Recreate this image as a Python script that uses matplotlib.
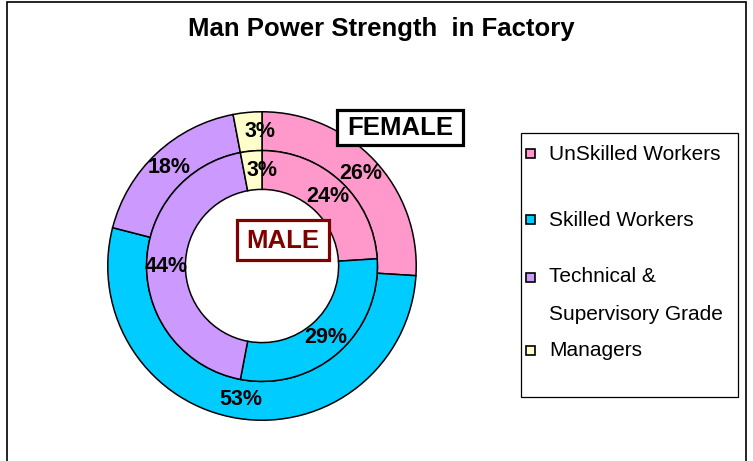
import matplotlib.pyplot as plt
from matplotlib.patches import Rectangle

plt.rcParams['font.family'] = ['Liberation Sans', 'DejaVu Sans']

# data
categories = ['UnSkilled Workers', 'Skilled Workers',
              'Technical &\nSupervisory Grade', 'Managers']
female_pct = [26, 53, 18, 3]   # outer ring
male_pct = [24, 29, 44, 3]     # inner ring
colors = ['#FF99CC', '#00CCFF', '#CC99FF', '#FFFFCC']

W, H = 753, 461
fig = plt.figure(figsize=(W / 100, H / 100), dpi=100)


def fx(px):
    return px / W


def fy(py):
    return 1 - py / H


# doughnut axes: centre (262,266) px, outer radius 155 px
cx, cy, R = 262, 266, 155
ax = fig.add_axes([fx(cx - R), fy(cy + R), 2 * R / W, 2 * R / H])

ring_w = 39 / R
mid_r = 116 / R
wprops = dict(edgecolor='black', linewidth=1.1, width=ring_w)
tprops = dict(fontsize=15.5, fontweight='bold', color='black')

_, _, outer_txt = ax.pie(female_pct, colors=colors, radius=1.0, startangle=90,
                         counterclock=False, wedgeprops=wprops,
                         autopct=lambda p: '%.0f%%' % p, pctdistance=0.875,
                         textprops=tprops)
_, _, inner_txt = ax.pie(male_pct, colors=colors, radius=mid_r, startangle=90,
                         counterclock=False, wedgeprops=wprops,
                         autopct=lambda p: '%.0f%%' % p, pctdistance=0.83,
                         textprops=tprops)
# Excel nudges the tiny "Managers" labels a little to the right
outer_txt[3].set_x(outer_txt[3].get_position()[0] + 11 / R)
inner_txt[3].set_x(inner_txt[3].get_position()[0] + 9 / R)

ax.set_xlim(-1.005, 1.005)
ax.set_ylim(-1.005, 1.005)
ax.set_aspect('equal')
ax.axis('off')

# title
fig.text(fx(381), fy(36), 'Man Power Strength  in Factory', ha='center', va='baseline',
         fontsize=18.5, fontweight='bold')

# FEMALE / MALE tags
fig.patches.append(Rectangle((fx(337), fy(145)), fx(126), 35 / H, transform=fig.transFigure,
                             facecolor='white', edgecolor='black', linewidth=2.3, zorder=5))
fig.text(fx(400), fy(128), 'FEMALE', ha='center', va='center', fontsize=18.5,
         fontweight='bold', zorder=6)
fig.patches.append(Rectangle((fx(237), fy(260)), fx(92), 40 / H, transform=fig.transFigure,
                             facecolor='white', edgecolor='#800000', linewidth=2.3, zorder=5))
fig.text(fx(283), fy(241), 'MALE', ha='center', va='center', fontsize=18.5,
         fontweight='bold', color='#800000', zorder=6)

# legend box
fig.patches.append(Rectangle((fx(521), fy(397)), fx(217), 264 / H, transform=fig.transFigure,
                             facecolor='white', edgecolor='black', linewidth=0.9))
leg_y = [154, 220, 277, 350]
for name, col, y in zip(categories, colors, leg_y):
    fig.patches.append(Rectangle((fx(526), fy(y + 4.5)), fx(9), 9 / H, transform=fig.transFigure,
                                 facecolor=col, edgecolor='black', linewidth=1.2, zorder=3))
    for k, line in enumerate(name.split('\n')):
        fig.text(fx(549), fy(y + 37 * k), line, ha='left', va='center', fontsize=15)

# chart area border (bottom edge falls outside the image)
fig.patches.append(Rectangle((fx(7), fy(470)), fx(739), 468 / H, transform=fig.transFigure,
                             facecolor='none', edgecolor='black', linewidth=1.2, clip_on=False))

fig.savefig('out.png', dpi=100)
